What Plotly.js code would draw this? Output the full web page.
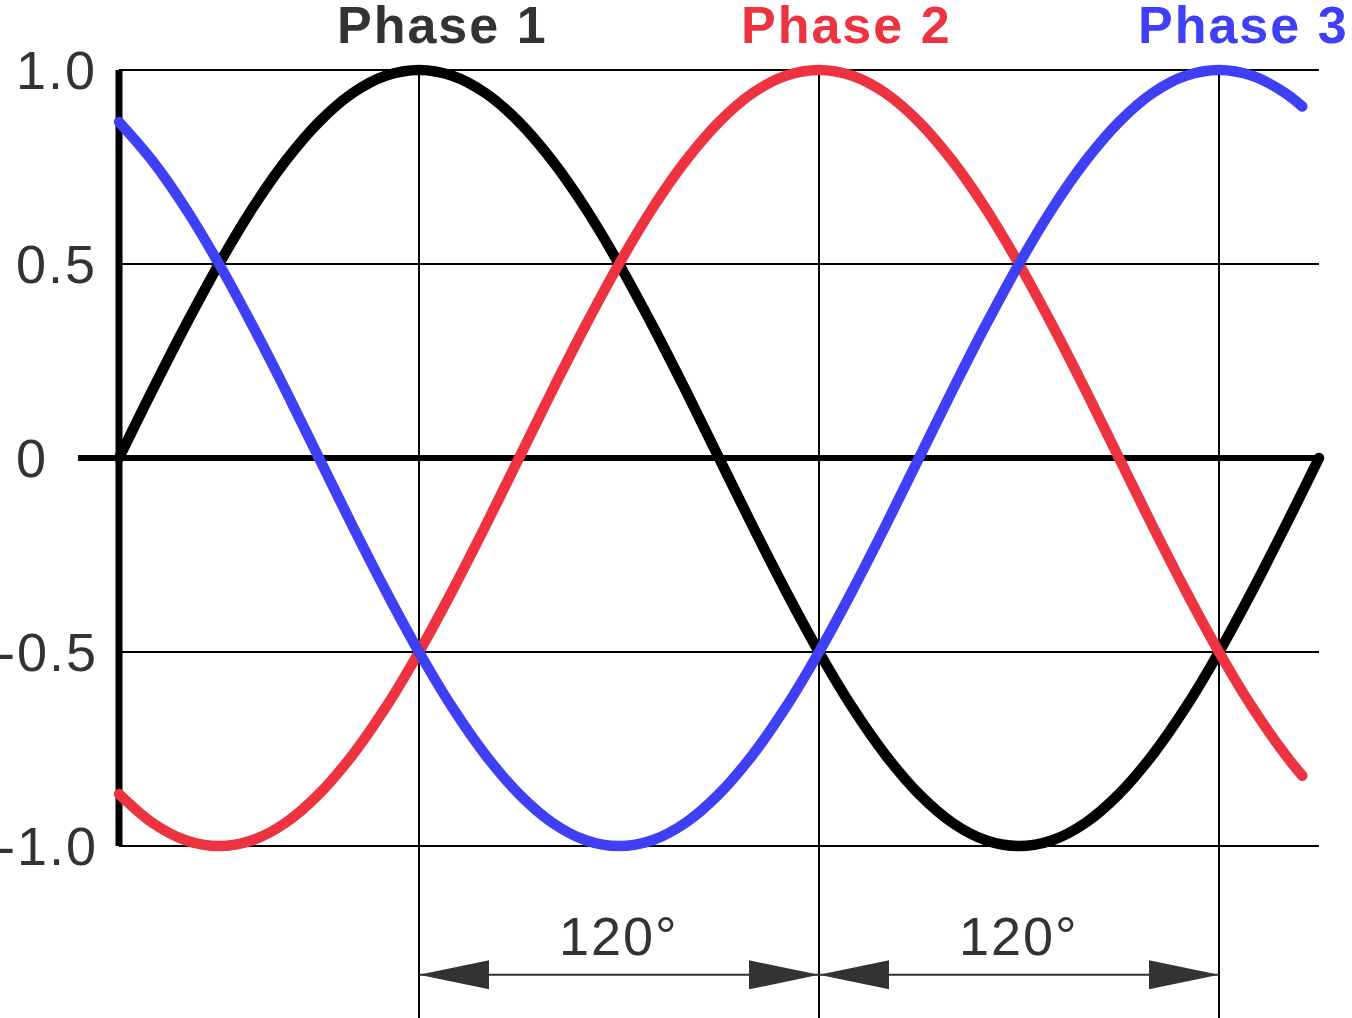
<!DOCTYPE html>
<html>
<head>
<meta charset="utf-8">
<script src="https://cdn.plot.ly/plotly-3.0.1.min.js"></script>
<style>
  html, body { margin: 0; padding: 0; background: #fff; }
  #chart { width: 1352px; height: 1018px; }
  .scatterlayer path.js-line { stroke-linecap: round; }
  .annotation-text { letter-spacing: 2px; }
</style>
</head>
<body>
<div id="chart"></div>
<script>
// ---- data (angle in degrees, normalised amplitude) ----
const phase1X = [0,10,20,30,40,50,60,70,80,90,100,110,120,130,140,150,160,170,180,190,200,210,220,230,240,250,260,270,280,290,300,310,320,330,340,350,360];
const phase1Y = [0,0.174,0.342,0.5,0.643,0.766,0.866,0.94,0.985,1.0,0.985,0.94,0.866,0.766,0.643,0.5,0.342,0.174,0,-0.174,-0.342,-0.5,-0.643,-0.766,-0.866,-0.94,-0.985,-1.0,-0.985,-0.94,-0.866,-0.766,-0.643,-0.5,-0.342,-0.174,0];

const phase2X = [0,10,20,30,40,50,60,70,80,90,100,110,120,130,140,150,160,170,180,190,200,210,220,230,240,250,260,270,280,290,300,310,320,330,340,350,355];
const phase2Y = [-0.866,-0.94,-0.985,-1.0,-0.985,-0.94,-0.866,-0.766,-0.643,-0.5,-0.342,-0.174,0,0.174,0.342,0.5,0.643,0.766,0.866,0.94,0.985,1.0,0.985,0.94,0.866,0.766,0.643,0.5,0.342,0.174,0,-0.174,-0.342,-0.5,-0.643,-0.766,-0.819];

const phase3X = [0,10,20,30,40,50,60,70,80,90,100,110,120,130,140,150,160,170,180,190,200,210,220,230,240,250,260,270,280,290,300,310,320,330,340,350,355];
const phase3Y = [0.866,0.766,0.643,0.5,0.342,0.174,0,-0.174,-0.342,-0.5,-0.643,-0.766,-0.866,-0.94,-0.985,-1.0,-0.985,-0.94,-0.866,-0.766,-0.643,-0.5,-0.342,-0.174,0,0.174,0.342,0.5,0.643,0.766,0.866,0.94,0.985,1.0,0.985,0.94,0.906];

const seriesNames = ["Phase 1", "Phase 2", "Phase 3"];
const seriesPeakX = [90, 210, 330];          // peak positions (also marker lines)
const tickVals = [1, 0.5, 0, -0.5, -1];
const tickText = ["1.0", "0.5", "0", "-0.5", "-1.0"];
const gridY = [1, 0.5, -0.5, -1];
const spans = [[90, 210], [210, 330]];
const spanLabel = "120°";

// ---- styles ----
const colors = ["#000000", "#EE3340", "#3F3FF5"];
const titleColors = ["#333333", "#EE3340", "#3F3FF5"];
const ink = "#333333";
const FONT = "Liberation Sans, Arial, sans-serif";

const xRange = [-35.7, 369.9];
const yRange = [-1.4433, 1.1804];
const xMin = 0, xMax = 360;
const zeroLineStart = -12.3;
const dimY = -1.332;
const dimTextY = -1.232;
const titleY = 1.116;
const titleX = [96.9, 218.1, 337.2];

const traces = [
  {x: phase1X, y: phase1Y},
  {x: phase2X, y: phase2Y},
  {x: phase3X, y: phase3Y}
].map((d, i) => ({
  x: d.x, y: d.y, type: "scatter", mode: "lines", name: seriesNames[i],
  line: {color: colors[i], width: 10.5, shape: "spline", smoothing: 1, simplify: false},
  hoverinfo: "skip", showlegend: false
}));

const shapes = [];
// horizontal grid lines
gridY.forEach(v => shapes.push({type: "line", xref: "x", yref: "y", x0: xMin, x1: xMax, y0: v, y1: v,
  line: {color: "#000", width: 2}, layer: "below"}));
// vertical marker lines
seriesPeakX.forEach(v => shapes.push({type: "line", xref: "x", yref: "y", x0: v, x1: v, y0: 1, y1: yRange[0] - 0.1,
  line: {color: "#000", width: 2}, layer: "below"}));
// zero line
shapes.push({type: "line", xref: "x", yref: "y", x0: zeroLineStart, x1: xMax, y0: 0, y1: 0,
  line: {color: "#000", width: 6}, layer: "below"});
// left axis
shapes.push({type: "line", xref: "x", yref: "y", x0: xMin, x1: xMin, y0: 1, y1: -1,
  line: {color: "#000", width: 7}, layer: "below"});
// dimension lines with arrowheads
spans.forEach(s => {
  shapes.push({type: "line", xref: "x", yref: "y", x0: s[0], x1: s[1], y0: dimY, y1: dimY,
    line: {color: ink, width: 2}, layer: "above"});
  shapes.push({type: "path", xref: "x", yref: "y", xsizemode: "pixel", ysizemode: "pixel",
    xanchor: s[0], yanchor: dimY, path: "M0,0 L70,14.5 L70,-14.5 Z",
    fillcolor: ink, line: {width: 0}, layer: "above"});
  shapes.push({type: "path", xref: "x", yref: "y", xsizemode: "pixel", ysizemode: "pixel",
    xanchor: s[1], yanchor: dimY, path: "M0,0 L-70,14.5 L-70,-14.5 Z",
    fillcolor: ink, line: {width: 0}, layer: "above"});
});

const annotations = [];
// y tick labels
tickVals.forEach((v, i) => {
  const neg = tickText[i].startsWith("-");
  annotations.push({xref: "x", yref: "y", x: -31.5, y: v, text: tickText[i],
    showarrow: false, xanchor: "left", yanchor: "middle", xshift: neg ? -19 : 0,
    font: {family: FONT, size: 54, color: ink}});
});
// series titles
seriesNames.forEach((n, i) => annotations.push({xref: "x", yref: "y", x: titleX[i], y: titleY, text: n,
  showarrow: false, xanchor: "center", yanchor: "middle",
  font: {family: FONT, size: 52, color: titleColors[i], weight: "bold"}}));
// span labels
spans.forEach(s => annotations.push({xref: "x", yref: "y", x: (s[0] + s[1]) / 2, y: dimTextY, text: spanLabel,
  showarrow: false, xanchor: "center", yanchor: "middle",
  font: {family: FONT, size: 54, color: ink}}));

const layout = {
  width: 1352, height: 1018,
  margin: {l: 0, r: 0, t: 0, b: 0, pad: 0},
  paper_bgcolor: "#fff", plot_bgcolor: "#fff",
  xaxis: {range: xRange, visible: false, fixedrange: true},
  yaxis: {range: yRange, visible: false, fixedrange: true},
  shapes: shapes, annotations: annotations, showlegend: false
};

Plotly.newPlot("chart", traces, layout, {displayModeBar: false, staticPlot: true});
</script>
</body>
</html>
